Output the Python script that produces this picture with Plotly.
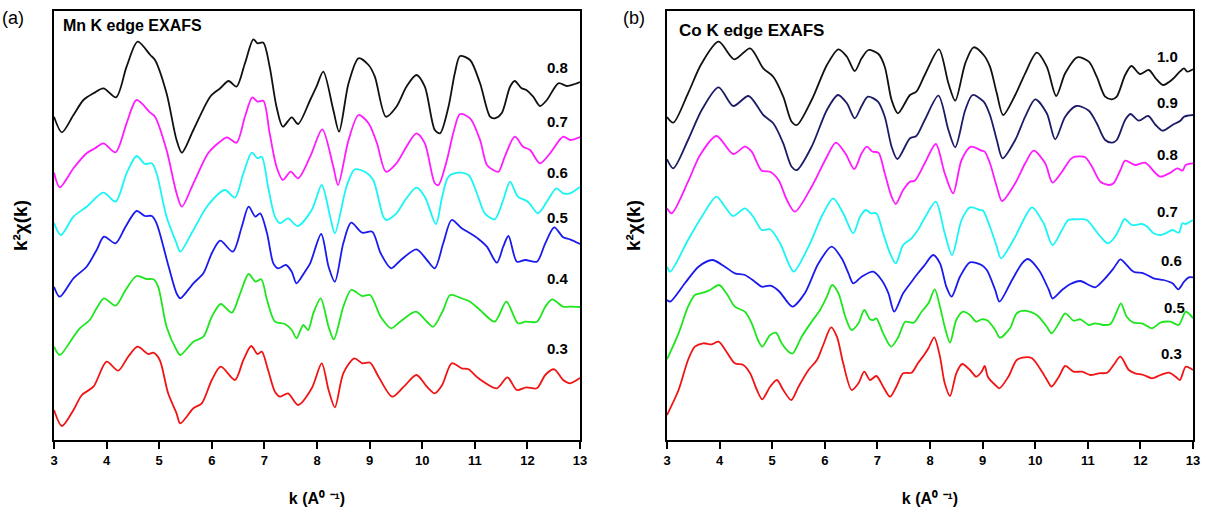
import plotly.graph_objects as go

W, H = 1208, 513

# ---------------- Panel (a): Mn K edge EXAFS ----------------
mn_labels = ["0.8", "0.7", "0.6", "0.5", "0.4", "0.3"]
mn_colors = ["#111111", "#ff1aff", "#19f5f5", "#1a1aee", "#1ee61e", "#f01414"]
mn_offsets = [320, 265, 215, 155, 95, 30]

mn_k_08 = [3.0, 3.15, 3.37, 3.56, 3.75, 3.94, 4.18, 4.38, 4.59, 4.83, 4.92, 5.14, 5.33, 5.43, 5.65, 5.97, 6.16, 6.32, 6.47, 6.63, 6.79, 6.87, 6.98, 7.1, 7.23, 7.35, 7.52, 7.64, 7.87, 7.99, 8.12, 8.31, 8.42, 8.6, 8.79, 8.98, 9.1, 9.31, 9.51, 9.7, 9.89, 10.05, 10.24, 10.34, 10.5, 10.62, 10.72, 10.91, 11.1, 11.29, 11.38, 11.51, 11.67, 11.76, 11.89, 11.98, 12.11, 12.24, 12.37, 12.59, 12.75, 12.9, 13.0]
mn_chi_08 = [3.3, -12.3, 5, 20, 26.7, 31.7, 22.7, 53.3, 78.3, 65, 60, 26.7, -20, -32.7, -10, 23.3, 31.7, 39, 33.3, 56.7, 80.7, 76.7, 77.3, 53.3, 13.3, -6.7, 2.7, -4, 20, 33.3, 48.3, 10, -11.7, 36.7, 61.7, 55, 43.3, 3.3, 13.3, 33.3, 45, 33.3, -10, -13.3, 13.3, 46.7, 64, 60, 36.7, 3.3, 1.7, 6.7, 33.3, 39, 31.7, 30, 23.3, 14, 20, 36.7, 34, 36, 38]

mn_k_07 = [3.0, 3.11, 3.37, 3.62, 3.78, 3.94, 4.17, 4.38, 4.57, 4.83, 4.92, 5.14, 5.33, 5.43, 5.65, 5.93, 6.12, 6.29, 6.47, 6.63, 6.77, 6.87, 6.98, 7.1, 7.23, 7.35, 7.5, 7.64, 7.87, 8.1, 8.31, 8.4, 8.6, 8.79, 8.98, 9.14, 9.31, 9.51, 9.7, 9.89, 10.05, 10.24, 10.31, 10.47, 10.59, 10.72, 10.91, 11.1, 11.23, 11.35, 11.45, 11.57, 11.76, 11.92, 12.05, 12.24, 12.43, 12.68, 12.81, 13.0]
mn_chi_07 = [2.3, -12.3, 6.7, 21.7, 26.7, 31.7, 22.7, 51.7, 75, 62.3, 58.3, 25, -18.3, -31.7, -8.3, 21.7, 31.7, 37.7, 32.3, 58.3, 77.7, 73.3, 74.3, 41.7, 8.3, -5, 3.3, -3.3, 18.3, 45.7, 8.3, -10, 35, 60, 51.7, 31.7, 3.3, 11.7, 28.3, 41.7, 31.7, -8.3, -10, 15, 41.7, 61, 56.7, 35, 10, 5, 3.3, 18.3, 38.3, 28.3, 25, 11.7, 21.7, 38.3, 35, 38]

mn_k_06 = [3.0, 3.13, 3.37, 3.62, 3.94, 4.17, 4.38, 4.57, 4.73, 4.86, 4.95, 5.14, 5.33, 5.4, 5.65, 5.93, 6.25, 6.44, 6.6, 6.76, 6.87, 6.95, 7.07, 7.2, 7.3, 7.45, 7.63, 7.9, 8.09, 8.25, 8.34, 8.56, 8.72, 8.94, 9.07, 9.26, 9.32, 9.51, 9.7, 9.89, 10.05, 10.26, 10.38, 10.5, 10.69, 10.88, 11.04, 11.19, 11.38, 11.54, 11.67, 11.82, 12.01, 12.2, 12.39, 12.55, 12.68, 12.81, 13.0]
mn_chi_06 = [2.3, -10, 8.3, 18.3, 32.3, 23.3, 51.7, 69, 61, 61.7, 51.7, 8.3, -18.3, -26.7, -5, 20, 35, 27.3, 51.7, 72.3, 66.7, 68.3, 38.3, 8.3, 1.7, 6.7, -1, 15, 40, 8.3, -8.3, 38.3, 55.7, 52.3, 45, 8.3, 5, 11.7, 26.7, 37.3, 28.3, 1, 28.3, 48.3, 52.3, 50, 31.7, 11.7, 5.7, 25, 43.3, 28.3, 23.3, 11.7, 25, 36.7, 31.7, 31.7, 38]

mn_k_05 = [3.0, 3.11, 3.37, 3.62, 3.81, 3.95, 4.17, 4.36, 4.57, 4.73, 4.86, 4.95, 5.18, 5.33, 5.4, 5.65, 5.84, 6.0, 6.16, 6.4, 6.57, 6.7, 6.83, 6.92, 7.05, 7.17, 7.26, 7.41, 7.52, 7.61, 7.77, 7.87, 8.08, 8.22, 8.34, 8.5, 8.65, 8.86, 9.05, 9.21, 9.41, 9.58, 9.89, 10.09, 10.24, 10.4, 10.56, 10.75, 10.91, 11.07, 11.23, 11.42, 11.54, 11.64, 11.8, 11.96, 12.18, 12.34, 12.51, 12.68, 12.81, 13.0]
mn_chi_05 = [-1.7, -11.7, 6.7, 18.3, 35, 48.3, 41.7, 58.3, 74, 69, 69, 61.7, 18.3, -8.3, -13.3, 1.7, 11.7, 31.7, 44.3, 33.3, 58.3, 78.3, 68.3, 71.7, 51.7, 21.7, 16.7, 20, 13.3, 1.7, 13.3, 21.7, 51, 18.3, 3.3, 41.7, 62.3, 52.3, 53.3, 31.7, 16.7, 24.3, 35.7, 25, 16.7, 41.7, 65, 56.7, 51.7, 46, 38.3, 22.3, 38.3, 49, 23.3, 25, 23.3, 41.7, 57.7, 47.7, 45.7, 41]

mn_k_04 = [3.0, 3.11, 3.37, 3.49, 3.68, 3.81, 3.95, 4.17, 4.36, 4.57, 4.76, 4.89, 4.98, 5.14, 5.33, 5.4, 5.65, 5.84, 6.0, 6.17, 6.38, 6.54, 6.7, 6.83, 6.94, 7.05, 7.2, 7.39, 7.52, 7.61, 7.74, 7.83, 7.93, 8.07, 8.22, 8.32, 8.5, 8.65, 8.86, 9.01, 9.21, 9.41, 9.58, 9.88, 10.09, 10.21, 10.4, 10.53, 10.75, 10.91, 11.1, 11.38, 11.6, 11.82, 11.96, 12.18, 12.34, 12.47, 12.68, 12.81, 13.0]
mn_chi_04 = [-1.7, -10, 8.3, 16.7, 25, 36.7, 46.7, 39.3, 55, 69, 66, 65.7, 58.3, 18.3, -5, -10, 3.3, 8.3, 28.3, 41, 32.3, 51.7, 71, 63.3, 65.7, 45, 23.3, 21, 15, 6.7, 20, 15, 31.7, 46.7, 18.3, 5.7, 38.3, 55, 49, 50, 28.3, 16.7, 23.3, 33.3, 23.3, 18.3, 35, 50, 46.7, 43.3, 35, 23.3, 43.3, 21.7, 23.3, 23.3, 38.3, 45.7, 38.3, 38.3, 38]

mn_k_03 = [3.0, 3.15, 3.37, 3.53, 3.75, 4.0, 4.22, 4.41, 4.59, 4.79, 4.89, 5.01, 5.17, 5.33, 5.4, 5.65, 5.81, 6.0, 6.17, 6.44, 6.6, 6.75, 6.87, 6.95, 7.07, 7.2, 7.3, 7.45, 7.64, 7.9, 8.09, 8.22, 8.34, 8.5, 8.71, 8.86, 9.01, 9.17, 9.43, 9.65, 9.89, 10.09, 10.24, 10.38, 10.56, 10.75, 10.88, 11.07, 11.42, 11.62, 11.8, 11.98, 12.18, 12.34, 12.51, 12.68, 12.81, 13.0]
mn_chi_03 = [0, -16, 0, 15, 23.3, 48.3, 39.3, 53.3, 63.3, 56, 57.3, 50, 16.7, -3.3, -13.3, 1.7, 6.7, 30, 43.3, 30, 50, 64, 56, 58.3, 40, 18.3, 13.3, 16.7, 5, 21.7, 46.7, 20, 2.7, 36.7, 51.7, 46.7, 47.3, 33.3, 13.3, 23.3, 35, 23.3, 16.7, 25, 46.7, 41.7, 40.7, 31.7, 21.7, 32.7, 20, 22.7, 21.7, 35, 40.7, 30, 26.7, 32]

mn_k = [mn_k_08, mn_k_07, mn_k_06, mn_k_05, mn_k_04, mn_k_03]
mn_chi = [mn_chi_08, mn_chi_07, mn_chi_06, mn_chi_05, mn_chi_04, mn_chi_03]
mn_label_y = [372, 318, 267, 222, 162, 92]

# ---------------- Panel (b): Co K edge EXAFS ----------------
co_labels = ["1.0", "0.9", "0.8", "0.7", "0.6", "0.5", "0.3"]
co_colors = ["#111111", "#1c1c66", "#ff1aff", "#19f5f5", "#1a1aee", "#1ee61e", "#f01414"]
co_offsets = [320, 280, 230, 170, 140, 85, 28]

co_k_10 = [3.0, 3.12, 3.4, 3.66, 3.98, 4.28, 4.58, 4.83, 5.02, 5.21, 5.37, 5.47, 5.75, 6.04, 6.26, 6.42, 6.57, 6.7, 6.83, 7.02, 7.14, 7.27, 7.39, 7.62, 7.74, 7.9, 8.17, 8.35, 8.48, 8.67, 8.83, 9.02, 9.14, 9.27, 9.39, 9.62, 9.81, 10.03, 10.22, 10.4, 10.57, 10.8, 11.02, 11.17, 11.33, 11.46, 11.55, 11.71, 11.83, 11.99, 12.16, 12.29, 12.43, 12.61, 12.73, 12.83, 12.89, 13.0]
co_chi_10 = [3, -2.7, 26.7, 56.7, 78.3, 60.7, 71.7, 51.7, 43.3, 23.3, -1.7, -5, 20, 55, 70.7, 63.3, 49, 61.7, 70, 66, 53.3, 20, 6.7, 25, 28.3, 45, 70.7, 36.7, 19.3, 56.7, 72.7, 65, 53.3, 26.7, 5, 25, 46.7, 67.3, 53.3, 24, 46.7, 62.7, 58.3, 43.3, 23.3, 20.7, 23.3, 45, 54, 46, 50, 41.7, 35, 40.7, 47.3, 51.7, 48.3, 50.7]

co_k_09 = [3.0, 3.12, 3.4, 3.66, 3.98, 4.26, 4.55, 4.83, 5.02, 5.21, 5.37, 5.47, 5.75, 6.04, 6.25, 6.42, 6.57, 6.7, 6.82, 7.01, 7.14, 7.27, 7.38, 7.62, 7.74, 7.9, 8.16, 8.35, 8.48, 8.67, 8.81, 9.02, 9.14, 9.27, 9.38, 9.62, 9.81, 10.0, 10.22, 10.38, 10.57, 10.78, 11.02, 11.17, 11.33, 11.46, 11.55, 11.71, 11.81, 11.97, 12.15, 12.29, 12.42, 12.61, 12.76, 12.83, 13.0]
co_chi_09 = [0.7, -8.3, 20, 50, 72.7, 54, 64, 45, 36.7, 16.7, -6.7, -10, 13.3, 50, 65, 56.7, 41.7, 54, 63.3, 58.3, 43.3, 13.3, 1, 21.7, 24, 40, 64.3, 30, 12.7, 50, 65, 58.3, 45, 20, 1.7, 20, 43.3, 60.7, 46.7, 20.7, 43.3, 54, 49.3, 36.7, 20, 17.3, 20, 40, 46, 39.3, 44, 35, 29.3, 35, 39.3, 43.3, 45]

co_k_08 = [3.0, 3.09, 3.4, 3.63, 3.94, 4.26, 4.48, 4.61, 4.8, 4.96, 5.12, 5.28, 5.43, 5.75, 6.04, 6.21, 6.39, 6.56, 6.7, 6.8, 6.91, 7.02, 7.14, 7.27, 7.35, 7.49, 7.62, 7.71, 7.9, 8.11, 8.28, 8.44, 8.6, 8.78, 8.98, 9.04, 9.14, 9.27, 9.37, 9.62, 9.81, 9.97, 10.19, 10.33, 10.51, 10.67, 10.76, 10.95, 11.08, 11.24, 11.4, 11.49, 11.62, 11.71, 11.9, 12.09, 12.29, 12.38, 12.57, 12.7, 12.8, 12.86, 13.0]
co_chi_08 = [1.7, -3.3, 28.3, 55, 74, 56, 63.3, 58.3, 39.3, 38.3, 30, 10, -1.7, 23.3, 53.3, 67.3, 56.7, 41, 56.7, 63.3, 58.3, 57.3, 36.7, 13.3, 6, 20, 28.3, 29.3, 46.7, 66, 36.7, 16.7, 50, 63.3, 59.3, 58.3, 46.7, 23.3, 9, 26.7, 46.7, 59.3, 46.7, 27.3, 38.3, 50.7, 53.3, 52.7, 43.3, 28.3, 25, 26.7, 40, 49.3, 45, 47.3, 36.7, 33.3, 37.3, 41.7, 39.3, 45, 46.7]

co_k_07 = [3.0, 3.06, 3.4, 3.66, 3.94, 4.1, 4.26, 4.48, 4.64, 4.8, 4.96, 5.15, 5.31, 5.41, 5.69, 5.97, 6.16, 6.35, 6.54, 6.67, 6.78, 6.88, 6.98, 7.11, 7.24, 7.35, 7.49, 7.65, 7.77, 7.9, 8.11, 8.28, 8.42, 8.6, 8.76, 8.95, 9.01, 9.14, 9.27, 9.35, 9.62, 9.81, 9.94, 10.16, 10.33, 10.51, 10.63, 10.79, 10.98, 11.14, 11.27, 11.38, 11.52, 11.62, 11.7, 11.84, 12.03, 12.13, 12.25, 12.38, 12.48, 12.61, 12.73, 12.8, 12.86, 13.0]
co_chi_07 = [3.3, -1.7, 30, 53.3, 73.3, 63.3, 54, 61.7, 53.3, 40, 40.7, 26.7, 6.7, -1.7, 23.3, 56.7, 71.7, 56.7, 36.7, 53.3, 60, 56.7, 56.7, 36.7, 16.7, 6.7, 25, 31.7, 40, 52, 68.3, 36.7, 15, 50, 62.7, 60, 59.3, 43.3, 23.3, 11.7, 33.3, 53.3, 62.7, 46.7, 25, 40, 50, 50.7, 50, 40, 31.7, 26.7, 33.3, 43.3, 51, 45, 46, 43.3, 36.7, 35, 36.7, 40, 37.3, 46.7, 46, 50]

co_k_06 = [3.0, 3.06, 3.34, 3.6, 3.86, 4.1, 4.29, 4.48, 4.67, 4.8, 4.96, 5.12, 5.31, 5.39, 5.62, 5.88, 6.13, 6.32, 6.45, 6.54, 6.7, 6.92, 7.08, 7.21, 7.32, 7.49, 7.65, 7.77, 7.9, 8.06, 8.19, 8.31, 8.41, 8.57, 8.76, 8.98, 9.08, 9.24, 9.32, 9.56, 9.75, 9.86, 10.07, 10.26, 10.33, 10.51, 10.67, 10.86, 11.02, 11.14, 11.33, 11.49, 11.62, 11.71, 11.87, 12.06, 12.25, 12.44, 12.61, 12.72, 12.83, 12.92, 13.0]
co_chi_06 = [0, -1.7, 16.7, 33.3, 40, 33.3, 26.7, 25, 18.3, 13.3, 14.3, 9.3, -3.3, -6.7, 6.7, 36.7, 53.3, 41.7, 26.7, 16.7, 23.3, 28.3, 20, 6.7, -11.7, 6.7, 18.3, 26.7, 35, 45, 36.7, 13.3, 3.3, 23.3, 37.7, 35, 30, 10, -1.7, 20, 36.7, 41, 30, 10, 1.5, 10, 16, 19, 15, 12.7, 21.7, 31.7, 40.7, 36.7, 28.3, 26.7, 21.7, 20, 16.7, 10.7, 18.3, 22.7, 22.7]

co_k_05 = [3.0, 3.22, 3.4, 3.53, 3.69, 3.82, 3.99, 4.13, 4.29, 4.48, 4.61, 4.73, 4.81, 4.96, 5.07, 5.18, 5.31, 5.39, 5.56, 5.75, 5.91, 6.04, 6.14, 6.26, 6.39, 6.51, 6.64, 6.75, 6.86, 6.92, 6.98, 7.11, 7.26, 7.4, 7.53, 7.69, 7.84, 7.97, 8.09, 8.19, 8.28, 8.38, 8.5, 8.63, 8.76, 8.88, 8.98, 9.1, 9.24, 9.33, 9.52, 9.65, 9.81, 10.03, 10.22, 10.31, 10.45, 10.57, 10.73, 10.86, 11.02, 11.14, 11.3, 11.43, 11.55, 11.63, 11.74, 11.87, 12.03, 12.22, 12.38, 12.57, 12.73, 12.86, 12.95, 13.0]
co_chi_05 = [-4.3, 21.7, 48.3, 60, 62.3, 65, 70, 61.7, 48.3, 43.3, 31.7, 15, 8.3, 20, 22.3, 11.7, 3.3, 1.5, 18.3, 33.3, 45, 58.3, 70, 61.7, 38.3, 25, 31.7, 45, 35.7, 35, 36.7, 21.7, 8.3, 18.3, 33.3, 32.3, 43.3, 51.7, 65.7, 48.3, 28.3, 12.3, 35, 43.3, 40, 33.3, 35.7, 34.3, 25, 17.3, 26.7, 41.7, 44.3, 40, 28.3, 21.7, 31.7, 41.7, 34.3, 35.7, 30, 31.7, 30, 31, 43.3, 51.7, 38.3, 32.3, 31.7, 26.7, 32.3, 33.3, 30, 43.3, 40, 36.7]

co_k_03 = [3.0, 3.22, 3.4, 3.53, 3.69, 3.85, 3.98, 4.13, 4.29, 4.45, 4.58, 4.71, 4.81, 4.96, 5.09, 5.21, 5.36, 5.5, 5.69, 5.85, 5.97, 6.12, 6.23, 6.35, 6.51, 6.64, 6.75, 6.86, 6.98, 7.11, 7.24, 7.36, 7.49, 7.65, 7.77, 7.9, 7.97, 8.08, 8.19, 8.28, 8.38, 8.5, 8.61, 8.76, 8.88, 8.98, 9.04, 9.1, 9.24, 9.32, 9.49, 9.65, 9.81, 9.94, 10.13, 10.26, 10.31, 10.45, 10.57, 10.73, 10.89, 11.05, 11.21, 11.37, 11.49, 11.62, 11.78, 11.9, 12.06, 12.22, 12.38, 12.54, 12.67, 12.75, 12.86, 12.95, 13.0]
co_chi_03 = [-3, 22, 52, 65.3, 68.7, 67.7, 70.3, 60.3, 48.7, 47, 38.7, 22, 12.7, 25.3, 32, 22, 12, 25.3, 42, 52, 67, 84.7, 75.3, 48.7, 22, 28.7, 40.3, 32, 36, 25.3, 15.3, 25.3, 38.7, 39.3, 48.7, 58, 63.7, 74.7, 55.3, 28.7, 16, 38.7, 48, 42, 35.3, 40.3, 46, 35.3, 27, 23.7, 35.3, 52, 54.7, 53.7, 40.3, 28.7, 25.3, 35.3, 46, 40.3, 40.3, 37, 38.7, 39.3, 47, 55.3, 42, 38.7, 37, 33.7, 37, 39.3, 35.3, 32, 45.3, 43.7, 42]

co_k = [co_k_10, co_k_09, co_k_08, co_k_07, co_k_06, co_k_05, co_k_03]
co_chi = [co_chi_10, co_chi_09, co_chi_08, co_chi_07, co_chi_06, co_chi_05, co_chi_03]
co_label_y = [383, 337, 285, 228, 180, 133, 87]
co_label_x = [12.52, 12.52, 12.52, 12.52, 12.6, 12.65, 12.6]

k_ticks = list(range(3, 14))

FONT = "Liberation Sans, Arial, Helvetica, sans-serif"
x_title = "k (A⁰ ⁻¹)"
y_title = "k²χ(k)"

fig = go.Figure()

for ks, vals, off, col in zip(mn_k, mn_chi, mn_offsets, mn_colors):
    fig.add_trace(go.Scatter(x=ks, y=[off + v for v in vals], mode="lines",
                             line=dict(color=col, width=1.8, shape="spline", smoothing=0.8),
                             xaxis="x", yaxis="y", showlegend=False, hoverinfo="skip"))
for ks, vals, off, col in zip(co_k, co_chi, co_offsets, co_colors):
    fig.add_trace(go.Scatter(x=ks, y=[off + v for v in vals], mode="lines",
                             line=dict(color=col, width=1.8, shape="spline", smoothing=0.8),
                             xaxis="x2", yaxis="y2", showlegend=False, hoverinfo="skip"))

def px(x):
    return x / W

def py(y):
    return 1 - y / H

xcommon = dict(range=[3, 13], tickmode="array", tickvals=k_ticks, ticktext=[str(t) for t in k_ticks],
               ticks="outside", ticklen=7, tickwidth=1.5, tickcolor="black",
               showline=True, linecolor="black", linewidth=2, mirror=True,
               showgrid=False, zeroline=False,
               tickfont=dict(family=FONT, size=13, color="black", weight="bold"),
               title=dict(text=x_title, standoff=26,
                          font=dict(family=FONT, size=16, color="black", weight="bold")))
ycommon = dict(range=[0, 429], showticklabels=False, ticks="", showline=True, linecolor="black",
               linewidth=2, mirror=True, showgrid=False, zeroline=False,
               title=dict(text=y_title, standoff=19,
                          font=dict(family=FONT, size=19, color="black", weight="bold")))

fig.update_layout(
    width=W, height=H,
    font=dict(family=FONT, size=13, color="black"),
    margin=dict(l=0, r=0, t=0, b=0, autoexpand=False),
    paper_bgcolor="white", plot_bgcolor="white",
    xaxis=dict(domain=[px(54), px(580)], anchor="y", automargin=False, **xcommon),
    yaxis=dict(domain=[py(440), py(11)], anchor="x", automargin=False, **ycommon),
    xaxis2=dict(domain=[px(667), px(1193)], anchor="y2", automargin=False, **xcommon),
    yaxis2=dict(domain=[py(440), py(11)], anchor="x2", automargin=False, **ycommon),
)

ann = []
def text(x, y, s, size, bold=True, xanchor="center"):
    ann.append(dict(x=px(x), y=py(y), xref="paper", yref="paper", text=s, showarrow=False,
                    xanchor=xanchor, yanchor="middle",
                    font=dict(family=FONT, size=size, color="black", weight="bold" if bold else "normal")))

text(0, 18, "(a)", 18, bold=False, xanchor="left")
text(621, 18, "(b)", 18, bold=False, xanchor="left")
text(61, 25, "Mn K edge EXAFS", 16, xanchor="left")
text(677, 30, "Co K edge EXAFS", 17, xanchor="left")

for lab, ly in zip(mn_labels, mn_label_y):
    ann.append(dict(x=12.58, y=ly, xref="x", yref="y", text=lab, showarrow=False,
                    font=dict(family=FONT, size=15, color="black", weight="bold")))
for lab, lx, ly in zip(co_labels, co_label_x, co_label_y):
    ann.append(dict(x=lx, y=ly, xref="x2", yref="y2", text=lab, showarrow=False,
                    font=dict(family=FONT, size=15, color="black", weight="bold")))

fig.update_layout(annotations=ann)
fig.write_html("out.html")
